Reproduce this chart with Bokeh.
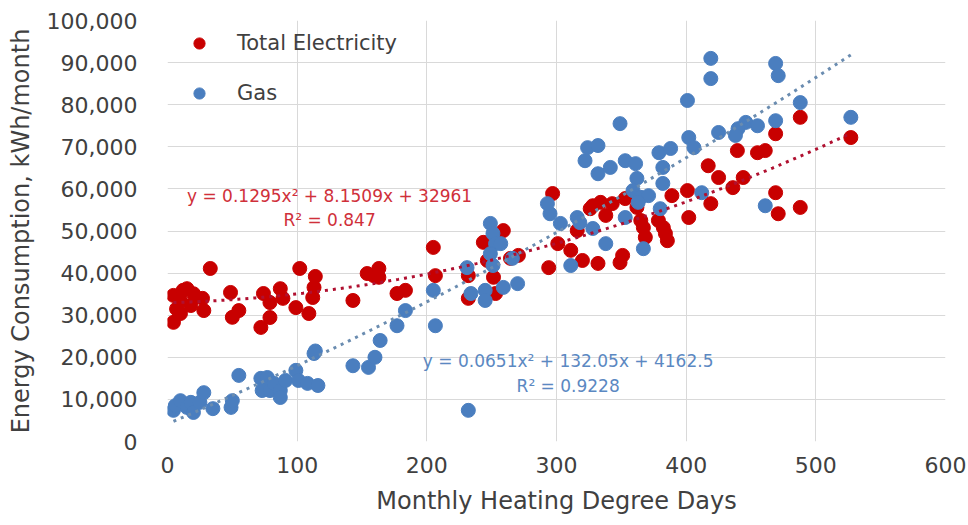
import numpy as np
from bokeh.plotting import figure
from bokeh.models import (Range1d, SingleIntervalTicker, NumeralTickFormatter,
                          Label, Legend, LegendItem)
from bokeh.embed import file_html
from bokeh.resources import INLINE

# Monthly heating degree days vs. total electricity use (kWh/month)
elec_hdd = [4.6, 4.6, 10, 10, 12, 15, 18, 20, 27, 28, 7, 33, 48.6, 50, 55, 72, 74, 79, 79, 87,
            89, 99, 102, 109, 112, 113, 114, 143, 154, 159, 163, 163, 177, 183.5, 205, 206.6,
            232, 232, 243.6, 246.7, 251.4, 253, 259, 264.5, 270.6, 294, 301, 297, 328, 334,
            343, 326, 338, 353, 362, 365, 367, 368.5, 389, 401, 402, 378.6, 382.4, 384, 385.5,
            316, 311, 320, 332, 351, 349, 488, 469, 527, 439.5, 455, 461, 417, 425, 444, 436,
            419, 469, 471, 488]
elec_kwh = [34700, 28300, 30400, 33500, 35900, 36300, 32300, 35100, 34000, 31100, 31500, 41100,
            35400, 29500, 31100, 27100, 35150, 33000, 29450, 36300, 34000, 31800, 41100, 30400,
            34200, 36600, 39200, 33500, 39900, 39400, 41100, 39000, 35150, 35900, 46100, 39400,
            39400, 34000, 47300, 43000, 39000, 35150, 50100, 43500, 44200, 41300, 47000, 58900,
            56000, 56800, 56500, 55300, 53700, 57700, 55600, 52500, 50800, 48500, 58400, 59600,
            53200, 52500, 50800, 49400, 47700, 50100, 45400, 43000, 42300, 44200, 42500, 77000,
            73100, 72200, 69100, 68600, 69100, 65500, 62700, 62700, 60300, 56500, 59100, 54100,
            55600]

# Monthly heating degree days vs. gas use (kWh/month)
gas_hdd = [4.6, 6, 10, 15, 18, 20, 25, 28, 35, 49, 50, 55, 72, 73, 77, 79, 82, 87, 87, 91, 99,
           101, 108, 116, 113, 114, 143, 155, 160, 164, 177, 183.5, 205, 206.6, 232, 231, 234,
           245, 245, 249, 251, 253, 257, 249, 251, 259, 270, 266, 295, 293, 349, 324, 332, 322,
           332, 341.5, 353, 361, 362, 382, 382, 379, 388, 359, 365, 371, 363, 380, 401, 402,
           303, 316, 318, 328, 353, 338, 367, 311, 419, 419, 469, 471, 488, 527, 469, 446, 455,
           440, 425, 438, 406, 461, 412]
gas_kwh = [7400, 8500, 9700, 8100, 9300, 6900, 9300, 11600, 7800, 8100, 9700, 15700, 15000, 12100,
           15200, 12100, 13800, 12100, 10450, 14500, 16900, 14500, 13800, 13300, 20900, 21500,
           18000, 17600, 20000, 24000, 27500, 31100, 35900, 27500, 7400, 41300, 35150, 35900,
           33500, 51800, 49400, 47000, 47000, 44600, 41800, 36600, 37500, 43500, 54100, 56500,
           75500, 69800, 70300, 66700, 63600, 65100, 66700, 66000, 62500, 61300, 65100, 68600,
           69600, 59600, 58000, 58400, 56800, 55300, 81000, 72200, 51800, 53200, 52000, 50600,
           53200, 47000, 45800, 41800, 91000, 86200, 89800, 86900, 80500, 77000, 76200, 75800,
           75000, 74300, 73400, 72700, 69800, 56000, 59100]

# Second-order polynomial trendline coefficients (a*x^2 + b*x + c) and R^2
elec_fit = [0.1295, 8.1509, 32961]
elec_r2 = 0.847
gas_fit = [0.0651, 132.05, 4162.5]
gas_r2 = 0.9228

FONT = "DejaVu Sans"
RED = "#C80000"
BLUE = "#4A7EBF"
INK = "#404040"

p = figure(width=968, height=525, output_backend="svg", toolbar_location=None,
           x_range=Range1d(0, 600), y_range=Range1d(0, 100000),
           min_border_left=167, min_border_right=23, min_border_top=20, min_border_bottom=84)
p.outline_line_color = None
p.background_fill_color = "white"
p.border_fill_color = "white"

for ax in (p.xaxis[0], p.yaxis[0]):
    ax.axis_line_color = None
    ax.major_tick_line_color = None
    ax.minor_tick_line_color = None
    ax.major_label_text_font = FONT
    ax.major_label_text_font_size = "22px"
    ax.major_label_text_color = INK
    ax.axis_label_text_font = FONT
    ax.axis_label_text_font_size = "24px"
    ax.axis_label_text_font_style = "normal"
    ax.axis_label_text_color = INK

p.xaxis.ticker = SingleIntervalTicker(interval=100)
p.yaxis.ticker = SingleIntervalTicker(interval=10000)
p.yaxis.formatter = NumeralTickFormatter(format="0,0")
p.xaxis.major_label_standoff = 9
p.yaxis.major_label_standoff = 24
p.xaxis.axis_label = "Monthly Heating Degree Days"
p.yaxis.axis_label = "Energy Consumption, kWh/month"
p.xaxis.axis_label_standoff = 11
p.yaxis.axis_label_standoff = 9

p.xgrid.grid_line_color = "#D9D9D9"
p.ygrid.grid_line_color = "#D9D9D9"
p.xgrid.grid_line_width = 1
p.ygrid.grid_line_width = 1


def trend(coeffs, xs):
    xx = np.linspace(min(xs), max(xs), 200)
    return xx, np.polyval(coeffs, xx)


ex, ey = trend(elec_fit, elec_hdd)
gx, gy = trend(gas_fit, gas_hdd)

r_elec = p.scatter(elec_hdd, elec_kwh, size=14, fill_color=RED, line_color=RED)
r_gas = p.scatter(gas_hdd, gas_kwh, size=14, fill_color=BLUE, line_color=BLUE)
p.line(ex, ey, line_color="#B01030", line_width=3, line_dash="3 5")
p.line(gx, gy, line_color="#6A8CB0", line_width=3, line_dash="3 5")

legend = Legend(items=[LegendItem(label="Total Electricity", renderers=[r_elec]),
                       LegendItem(label="Gas", renderers=[r_gas])],
                location="top_left")
legend.background_fill_alpha = 0
legend.border_line_color = None
legend.label_text_font = FONT
legend.label_text_font_size = "21px"
legend.label_text_color = INK
legend.glyph_width = 46
legend.glyph_height = 28
legend.label_standoff = 15
legend.spacing = 22
legend.margin = 9
legend.padding = 9
p.add_layout(legend)


def eq_text(c):
    return "y = {}x\u00b2 + {}x + {}".format(c[0], c[1], c[2])


EQ_SIZE = "17px"
p.add_layout(Label(x=125, y=58400, text=eq_text(elec_fit), text_align="center",
                   text_baseline="middle", text_font=FONT, text_font_size=EQ_SIZE,
                   text_color="#D0303A"))
p.add_layout(Label(x=125, y=52500, text="R\u00b2 = {}".format(elec_r2), text_align="center",
                   text_baseline="middle", text_font=FONT, text_font_size=EQ_SIZE,
                   text_color="#D0303A"))
p.add_layout(Label(x=309, y=19200, text=eq_text(gas_fit), text_align="center",
                   text_baseline="middle", text_font=FONT, text_font_size=EQ_SIZE,
                   text_color="#5B88C2"))
p.add_layout(Label(x=309, y=13300, text="R\u00b2 = {}".format(gas_r2), text_align="center",
                   text_baseline="middle", text_font=FONT, text_font_size=EQ_SIZE,
                   text_color="#5B88C2"))

open("out.html", "w").write(file_html(p, INLINE))
